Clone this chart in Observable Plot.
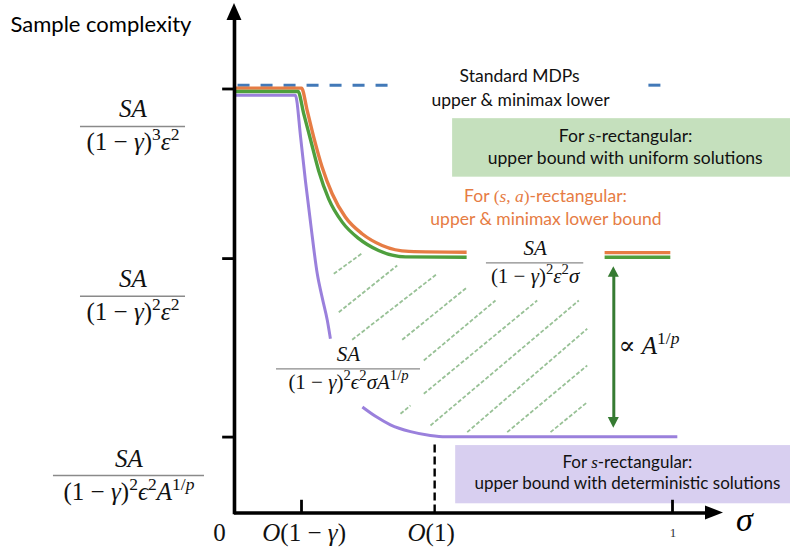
<!DOCTYPE html>
<html>
<head>
<meta charset="utf-8">
<script src="https://cdn.jsdelivr.net/npm/d3@7"></script>
<script src="https://cdn.jsdelivr.net/npm/@observablehq/plot@0.6"></script>
<style>
  html, body { margin: 0; padding: 0; background: #fff; }
  #chart svg { display: block; }
</style>
</head>
<body>
<div id="chart"></div>
<script>
// ---------------------------------------------------------------
// Sample complexity of robust MDPs as a function of the radius σ.
// x: σ (0 at the origin, 1 at the last tick); y: complexity level
// (0 on the σ axis, 1 at the top bound on the vertical axis).
// ---------------------------------------------------------------

const sigmaDomain = [-0.5342, 1.2694];
const levelDomain = [-0.0979, 1.2087];

// ticks
const levelTicks = [1.0, 0.6, 0.179];
const sigmaTicks = [0.153, 1.0];
const sigmaCritical = 0.457;              // O(1), drawn dashed
const sigmaTickText = ["0", "$O(1 − γ)$", "$O(1)$"];
const sigmaTickAt = [-0.034, 0.159, 0.449];
const sigmaOneText = "1";
const sigmaOneAt = 1.001;

// complexity bounds written as fractions
const boundNumerators = ["$SA$", "$SA$", "$SA$", "$SA$", "$SA$"];
const boundDenominators = [
  "$(1 − γ)^{3}ε^{2}$",
  "$(1 − γ)^{2}ε^{2}$",
  "$(1 − γ)^{2}ϵ^{2}A^{1/p}$",
  "$(1 − γ)^{2}ε^{2}σ$",
  "$(1 − γ)^{2}ϵ^{2}σA^{1/p}$"
];
const boundCenters = [-0.2317, -0.2317, -0.2409, 0.6863, 0.2603];
const boundBarLevels = [0.9116, 0.5113, 0.0884, 0.590, 0.340];
const boundHalfWidths = [0.1199, 0.1199, 0.1724, 0.1111, 0.1644];

// curves: pieces of [σ, level]
const standardMDP = [
  [[0.007, 1.009], [0.361, 1.009]],
  [[0.945, 1.009], [0.993, 1.009]]
];
const saRectangular = [
  [[0, 1.002], [0.153, 1.002], [0.166, 0.949], [0.181, 0.886], [0.200, 0.816], [0.223, 0.753],
   [0.253, 0.698], [0.292, 0.658], [0.337, 0.631], [0.398, 0.617], [0.530, 0.615]],
  [[0.845, 0.614], [0.995, 0.614]]
];
const sRectUniform = [
  [[0, 0.994], [0.145, 0.994], [0.158, 0.942], [0.174, 0.879], [0.192, 0.808], [0.215, 0.741],
   [0.246, 0.686], [0.284, 0.647], [0.329, 0.619], [0.390, 0.604], [0.530, 0.603]],
  [[0.845, 0.603], [0.995, 0.603]]
];
const sRectDeterministic = [
  [[0, 0.985], [0.139, 0.985], [0.151, 0.886], [0.162, 0.783], [0.174, 0.682], [0.189, 0.564],
   [0.200, 0.509], [0.212, 0.454], [0.219, 0.411]],
  [[0.292, 0.250], [0.322, 0.228], [0.356, 0.208], [0.402, 0.192], [0.447, 0.183], [0.482, 0.180],
   [1.011, 0.180]]
];

// hatching between the uniform and deterministic bounds: [σ1, level1, σ2, level2]
const gapHatch = [
  [0.2267, 0.5642, 0.2916, 0.6127],
  [0.2381, 0.4736, 0.3715, 0.5837],
  [0.2687, 0.4085, 0.4628, 0.5642],
  [0.3829, 0.4085, 0.5313, 0.5325],
  [0.4322, 0.3597, 0.5959, 0.5012],
  [0.4322, 0.2811, 0.6911, 0.5012],
  [0.3790, 0.2340, 0.4018, 0.2535],
  [0.4475, 0.2064, 0.7861, 0.5012],
  [0.5313, 0.1906, 0.8053, 0.4344],
  [0.6226, 0.1906, 0.8053, 0.3479],
  [0.7215, 0.1906, 0.8053, 0.2613]
];

// the A^{1/p} gap between the two s-rectangular bounds
const gapSigma = 0.866;
const gapLevels = [0.200, 0.581];
const gapText = "$∝ A^{1/p}$";
const gapTextAt = [0.877, 0.3755];

// legend boxes: [σ1, σ2, level1, level2]
const uniformBox = [0.498, 1.2694, 0.792, 0.930];
const deterministicBox = [0.505, 1.2694, 0.0217, 0.159];

// annotations
const noteText = [
  "Standard MDPs", "upper & minimax lower",
  "For $s$-rectangular:", "upper bound with uniform solutions",
  "For $(s, a)$-rectangular:", "upper & minimax lower bound",
  "For $s$-rectangular:", "upper bound with deterministic solutions"
];
const noteAt = [
  [0.651, 1.016], [0.653, 0.961],
  [0.893, 0.875], [0.892, 0.824],
  [0.710, 0.733], [0.711, 0.680],
  [0.897, 0.1054], [0.897, 0.0559]
];
const noteGroup = ["standard", "standard", "uniform", "uniform", "sa", "sa", "deterministic", "deterministic"];

const yTitle = "Sample complexity";
const yTitleAt = [-0.5114, 1.134];
const xTitle = "$σ$";
const xTitleAt = [1.164, -0.0413];

// ---------------------------------------------------------------
const BLUE = "#4279b8", ORANGE = "#e67c44", GREEN = "#4e9f3d", PURPLE = "#9a80dc";
const DARKGREEN = "#367b32", HATCH = "#98c196";
const SANS = "Lato, 'Open Sans', sans-serif";
const MATH = "'Liberation Serif', 'DejaVu Serif', serif";

const pieces = (curve) =>
  curve.flatMap((piece, k) => piece.map(([sigma, level]) => ({sigma, level, piece: k})));

const idx = (arr) => arr.map((_, i) => i);

const yArrow = {tip: 1.2017, base: 1.1616, half: 0.0171};
const xArrow = {tip: 1.1164, base: 1.0753, half: 0.0172};
const gapHead = {len: 0.025, half: 0.0126};

const chart = Plot.plot({
  width: 790,
  height: 554,
  marginTop: 0, marginRight: 0, marginBottom: 0, marginLeft: 0,
  x: {domain: sigmaDomain, axis: null},
  y: {domain: levelDomain, axis: null},
  style: {background: "#fff", fontFamily: SANS, overflow: "visible"},
  marks: [
    // legend boxes
    Plot.rect([uniformBox], {x1: (d) => d[0], x2: (d) => d[1], y1: (d) => d[2], y2: (d) => d[3], fill: "#c5e0bd"}),
    Plot.rect([deterministicBox], {x1: (d) => d[0], x2: (d) => d[1], y1: (d) => d[2], y2: (d) => d[3], fill: "#d8cff0"}),

    // hatching of the gap
    Plot.link(gapHatch, {
      x1: (d) => d[0], y1: (d) => d[1], x2: (d) => d[2], y2: (d) => d[3],
      stroke: HATCH, strokeWidth: 1.8, strokeDasharray: "4,2"
    }),

    // bounds
    Plot.line(pieces(standardMDP), {x: "sigma", y: "level", z: "piece", stroke: BLUE, strokeWidth: 3, strokeDasharray: "12,11", strokeLinecap: "butt"}),
    Plot.line(pieces(saRectangular), {x: "sigma", y: "level", z: "piece", stroke: ORANGE, strokeWidth: 3.4, curve: "monotone-x", strokeLinecap: "butt"}),
    Plot.line(pieces(sRectUniform), {x: "sigma", y: "level", z: "piece", stroke: GREEN, strokeWidth: 3.4, curve: "monotone-x", strokeLinecap: "butt"}),
    Plot.line(pieces(sRectDeterministic), {x: "sigma", y: "level", z: "piece", stroke: PURPLE, strokeWidth: 3, curve: "monotone-x", strokeLinecap: "butt"}),

    // gap arrow
    Plot.ruleX([gapSigma], {y1: gapLevels[0] + gapHead.len * 0.8, y2: gapLevels[1] - gapHead.len * 0.8, stroke: DARKGREEN, strokeWidth: 3}),
    Plot.areaX([
      {y: gapLevels[1] - gapHead.len, x1: gapSigma - gapHead.half, x2: gapSigma + gapHead.half},
      {y: gapLevels[1], x1: gapSigma, x2: gapSigma}
    ], {y: "y", x1: "x1", x2: "x2", fill: DARKGREEN}),
    Plot.areaX([
      {y: gapLevels[0], x1: gapSigma, x2: gapSigma},
      {y: gapLevels[0] + gapHead.len, x1: gapSigma - gapHead.half, x2: gapSigma + gapHead.half}
    ], {y: "y", x1: "x1", x2: "x2", fill: DARKGREEN}),

    // axes
    Plot.ruleX([0], {y1: -0.004, y2: yArrow.base + 0.002, stroke: "#000", strokeWidth: 3.6}),
    Plot.ruleY([0], {x1: 0, x2: xArrow.base + 0.002, stroke: "#000", strokeWidth: 3.6}),
    Plot.areaX([
      {y: yArrow.base, x1: -yArrow.half, x2: yArrow.half},
      {y: yArrow.tip, x1: 0, x2: 0}
    ], {y: "y", x1: "x1", x2: "x2", fill: "#000"}),
    Plot.areaY([
      {x: xArrow.base, y1: -xArrow.half * 0.97, y2: xArrow.half * 0.97},
      {x: xArrow.tip, y1: 0, y2: 0}
    ], {x: "x", y1: "y1", y2: "y2", fill: "#000"}),
    Plot.ruleY(levelTicks, {x1: -0.027, x2: 0, stroke: "#000", strokeWidth: 2.8}),
    Plot.ruleX(sigmaTicks, {y1: 0, y2: 0.03, stroke: "#000", strokeWidth: 2.8}),
    Plot.ruleX([sigmaCritical], {y1: 0, y2: 0.1616, stroke: "#000", strokeWidth: 2.4, strokeDasharray: "8,4"}),

    // tick labels
    Plot.text(idx(sigmaTickText), {
      x: (i) => sigmaTickAt[i], y: -0.0649, text: (i) => sigmaTickText[i],
      fontFamily: MATH, fontSize: 25, lineAnchor: "bottom", fill: "#111"
    }),
    Plot.text([sigmaOneText], {x: sigmaOneAt, y: -0.057, text: (d) => d, fontFamily: MATH, fontSize: 13, lineAnchor: "bottom", fill: "#333"}),
    Plot.text([xTitle], {x: xTitleAt[0], y: xTitleAt[1], text: (d) => d, fontFamily: MATH, fontSize: 34, lineAnchor: "bottom", fill: "#000"}),
    Plot.text([yTitle], {x: yTitleAt[0], y: yTitleAt[1], text: (d) => d, fontSize: 22, textAnchor: "start", lineAnchor: "bottom", fill: "#000"}),

    // fractions
    Plot.ruleY(idx(boundBarLevels), {
      y: (i) => boundBarLevels[i],
      x1: (i) => boundCenters[i] - boundHalfWidths[i],
      x2: (i) => boundCenters[i] + boundHalfWidths[i],
      stroke: "#8a8a8a", strokeWidth: 1.4
    }),
    Plot.text(idx(boundNumerators).slice(0, 3), {
      x: (i) => boundCenters[i], y: (i) => boundBarLevels[i], text: (i) => boundNumerators[i],
      fontFamily: MATH, fontSize: 25, lineAnchor: "bottom", dy: -9, fill: "#111"
    }),
    Plot.text(idx(boundDenominators).slice(0, 3), {
      x: (i) => boundCenters[i], y: (i) => boundBarLevels[i], text: (i) => boundDenominators[i],
      fontFamily: MATH, fontSize: 25, lineAnchor: "bottom", dy: 24, fill: "#111"
    }),
    Plot.text(idx(boundNumerators).slice(3), {
      x: (i) => boundCenters[i], y: (i) => boundBarLevels[i], text: (i) => boundNumerators[i],
      fontFamily: MATH, fontSize: 21, lineAnchor: "bottom", dy: -8, fill: "#111"
    }),
    Plot.text(idx(boundDenominators).slice(3), {
      x: (i) => boundCenters[i], y: (i) => boundBarLevels[i], text: (i) => boundDenominators[i],
      fontFamily: MATH, fontSize: 21, lineAnchor: "bottom", dy: 20, fill: "#111"
    }),
    Plot.text([gapText], {x: gapTextAt[0], y: gapTextAt[1], text: (d) => d, fontFamily: MATH, fontSize: 25, textAnchor: "start", lineAnchor: "bottom", fill: "#111"}),

    // annotations
    Plot.text(idx(noteText), {
      x: (i) => noteAt[i][0], y: (i) => noteAt[i][1], text: (i) => noteText[i],
      fontSize: (i) => (noteGroup[i] === "deterministic" ? 17 : 17.5), lineAnchor: "bottom",
      fill: (i) => (noteGroup[i] === "sa" ? ORANGE : "#111")
    })
  ]
});

document.getElementById("chart").appendChild(chart);

// Set $…$ spans as math: letters italic, superscripts raised and reduced.
function typeset(svg) {
  const NS = "http://www.w3.org/2000/svg";
  svg.querySelectorAll("text").forEach((t) => {
    const targets = t.querySelector("tspan") ? [...t.querySelectorAll("tspan")] : [t];
    for (const el of targets) {
      const src = el.textContent;
      if (!src.includes("$")) continue;
      const fs = parseFloat(getComputedStyle(el).fontSize);
      el.textContent = "";
      let shift = 0;
      const add = (str, {math = false, italic = false, sup = false}) => {
        const s = document.createElementNS(NS, "tspan");
        const target = sup ? -0.4 * fs : 0;
        if (target !== shift) { s.setAttribute("dy", target - shift); shift = target; }
        if (math) s.setAttribute("font-family", MATH);
        if (italic) s.setAttribute("font-style", "italic");
        if (sup) s.setAttribute("font-size", 0.7 * fs);
        s.textContent = str;
        el.appendChild(s);
      };
      const runs = (str, sup) => {
        const re = /([A-Za-z\u0370-\u03FF]+)|([^A-Za-z\u0370-\u03FF]+)/g;
        let m;
        while ((m = re.exec(str))) add(m[0], {math: true, italic: !!m[1], sup});
      };
      src.split("$").forEach((part, i) => {
        if (!part) return;
        if (i % 2 === 0) { add(part, {}); return; }
        const re = /\^\{([^}]*)\}|\^(.)|([^^]+)/g;
        let m;
        while ((m = re.exec(part))) {
          if (m[3] !== undefined) runs(m[3], false);
          else runs(m[1] !== undefined ? m[1] : m[2], true);
        }
      });
    }
  });
}
typeset(chart);
</script>
</body>
</html>
